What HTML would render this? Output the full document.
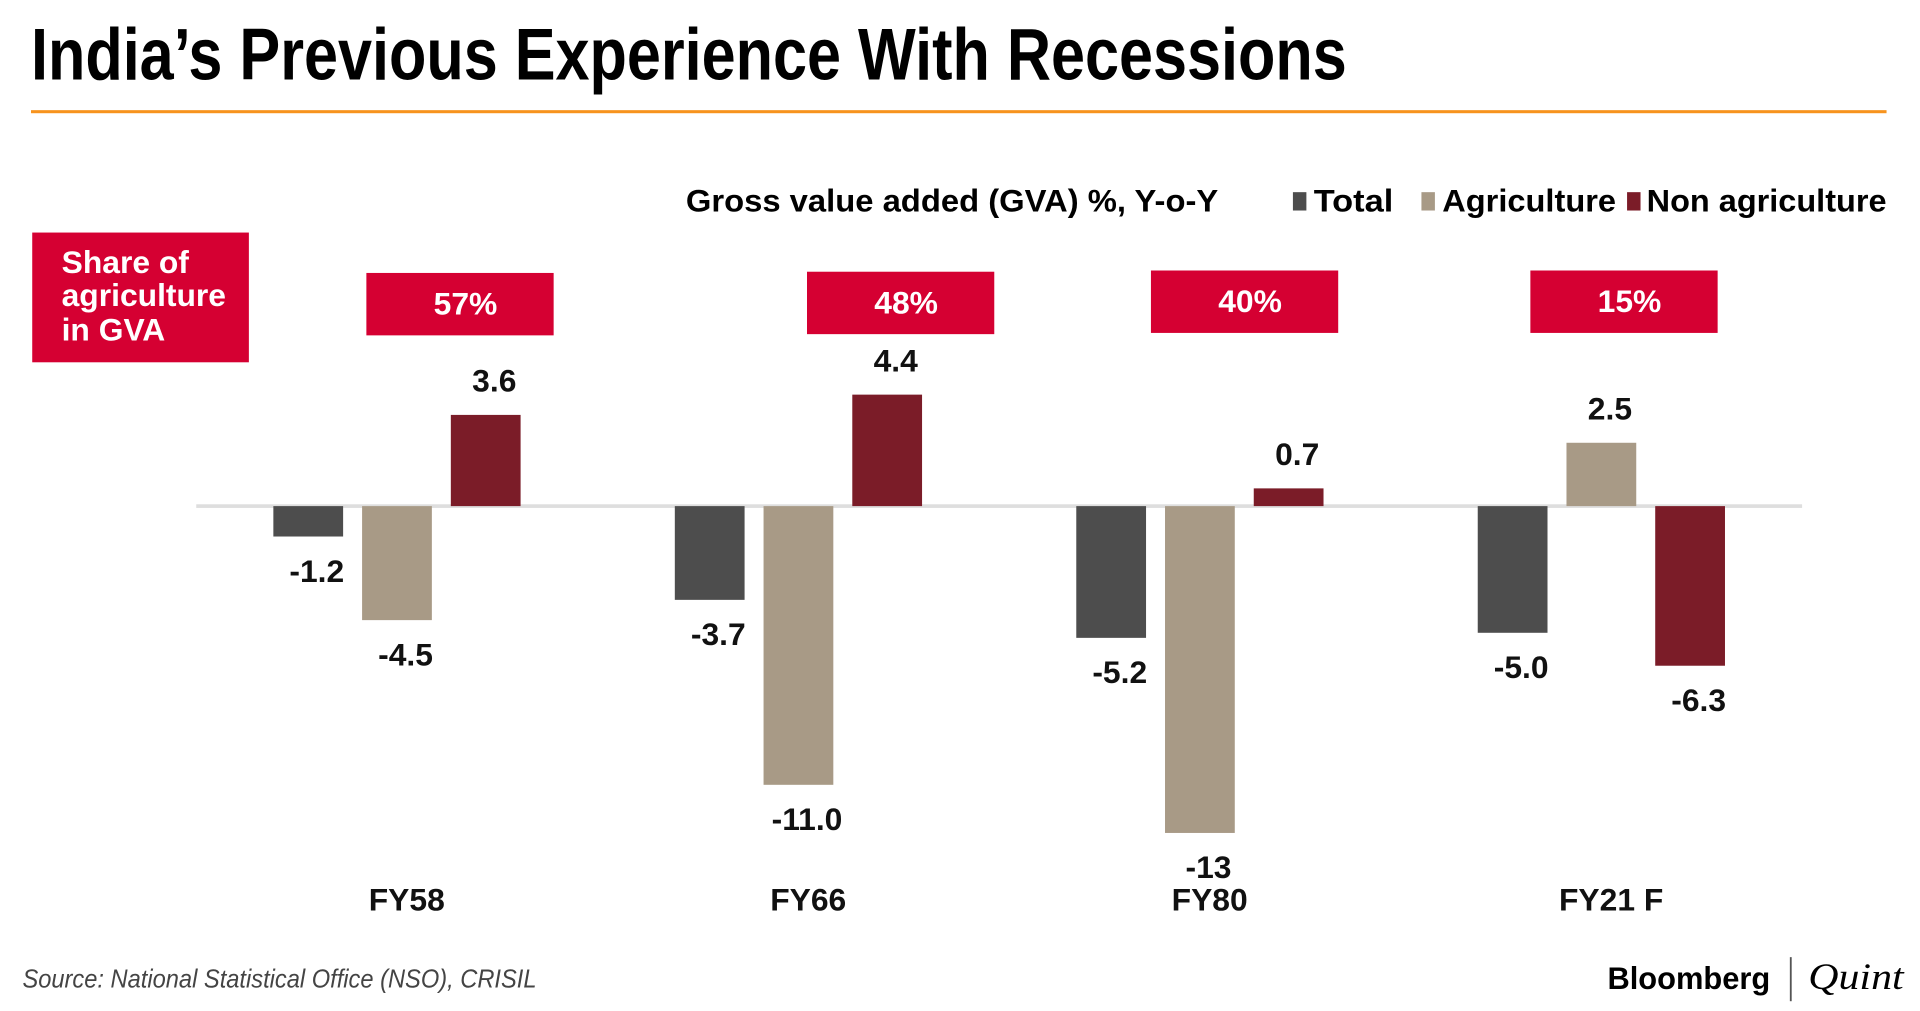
<!DOCTYPE html>
<html><head><meta charset="utf-8"><style>
html,body{margin:0;padding:0;background:#fff;width:1920px;height:1011px;overflow:hidden}
svg{display:block}
text{font-family:"Liberation Sans Narrow","Liberation Sans",sans-serif;font-weight:bold}
</style></head><body>
<svg id="chart" width="1920" height="1011" viewBox="0 0 1568 826" xmlns="http://www.w3.org/2000/svg">
<text x="25" y="65" font-size="60" textLength="1075" lengthAdjust="spacingAndGlyphs" fill="#000">India’s Previous Experience With Recessions</text>
<rect x="25" y="90" width="1516" height="2.5" fill="#f7931e"/>
<g>
<text x="560" y="173" font-size="26" textLength="435" lengthAdjust="spacingAndGlyphs">Gross value added (GVA) %, Y-o-Y</text>
<rect x="1056" y="157" width="11" height="15" fill="#4d4d4d"/>
<text x="1073" y="173" font-size="26" textLength="65" lengthAdjust="spacingAndGlyphs">Total</text>
<rect x="1161" y="157" width="11" height="15" fill="#a89a86"/>
<text x="1178" y="173" font-size="26" textLength="142" lengthAdjust="spacingAndGlyphs">Agriculture</text>
<rect x="1329" y="157" width="11" height="15" fill="#7b1c28"/>
<text x="1345" y="173" font-size="26" textLength="196" lengthAdjust="spacingAndGlyphs">Non agriculture</text>
</g>
<rect x="26" y="190" width="177" height="106" fill="#d50032"/>
<text font-size="26" fill="#fff"><tspan x="50" y="223">Share of</tspan><tspan x="50" y="250">agriculture</tspan><tspan x="50" y="278">in GVA</tspan></text>
<rect x="160" y="412" width="1312" height="3" fill="#dedede"/>
<g id="marks"></g>
<text x="18" y="807" font-size="21" font-weight="normal" font-style="italic" fill="#444" style="font-weight:normal" textLength="420" lengthAdjust="spacingAndGlyphs">Source: National Statistical Office (NSO), CRISIL</text>
<text x="1313" y="808" font-size="26" textLength="133" lengthAdjust="spacingAndGlyphs">Bloomberg</text>
<rect x="1462" y="782" width="1.5" height="36" fill="#555"/>
<text x="1477" y="808" font-size="30" font-style="italic" style="font-family:'Liberation Serif',serif;font-weight:normal" textLength="78" lengthAdjust="spacingAndGlyphs">Quint</text>
</svg>
<script>
const categories = ["FY58", "FY66", "FY80", "FY21 F"];
const totalValues = [-1.2, -3.7, -5.2, -5.0];
const agricultureValues = [-4.5, -11.0, -12.9, 2.5];
const nonAgricultureValues = [3.6, 4.4, 0.7, -6.3];
const valueLabels = [["-1.2","-3.7","-5.2","-5.0"],["-4.5","-11.0","-13","2.5"],["3.6","4.4","0.7","-6.3"]];
const shareLabels = ["57%", "48%", "40%", "15%"];

const NS = "http://www.w3.org/2000/svg";
const g = document.getElementById("marks");
const zeroY = 413.5, unit = 20.7;
function y(v){ return zeroY - v*unit; }
function groupX(i){ return 223 + i*328; }
const series = [
  {vals: totalValues, color: "#4d4d4d", name: "total"},
  {vals: agricultureValues, color: "#a89a86", name: "agriculture"},
  {vals: nonAgricultureValues, color: "#7b1c28", name: "non-agriculture"}
];
const bw = 57;
function mk(tag, attrs){ const e = document.createElementNS(NS, tag); for (const k in attrs) e.setAttribute(k, attrs[k]); g.appendChild(e); return e; }
categories.forEach((c, i) => {
  const gx = groupX(i);
  series.forEach((s, j) => {
    const v = s.vals[i];
    const x = gx + j*72.5;
    const top = Math.min(y(v), zeroY), h = Math.abs(y(v) - zeroY);
    const r = mk("rect", {x: x, y: top, width: bw, height: h, fill: s.color});
    
    
    const ly = v >= 0 ? y(v) - 19 : y(v) + 37;
    const t = mk("text", {x: x + bw/2 + 7, y: ly, "font-size": 26, "text-anchor": "middle", fill: "#111"});
    t.textContent = valueLabels[j][i];
    
    
  });
  const cl = mk("text", {x: gx + 72.5 + bw/2 + 8, y: 744, "font-size": 26, "text-anchor": "middle", fill: "#111"});
  cl.textContent = c;
  
  
  const bx = [299, 659, 940, 1250][i] || gx + 76;
  const by = [223, 222, 221, 221][i] || 221;
  const b = mk("rect", {x: bx, y: by, width: 153, height: 51, fill: "#d50032"});
  
  
  const bt = mk("text", {x: bx + 81, y: by + 34, "font-size": 26, "text-anchor": "middle", fill: "#fff"});
  bt.textContent = shareLabels[i];
  
  
});
</script>
</body></html>
